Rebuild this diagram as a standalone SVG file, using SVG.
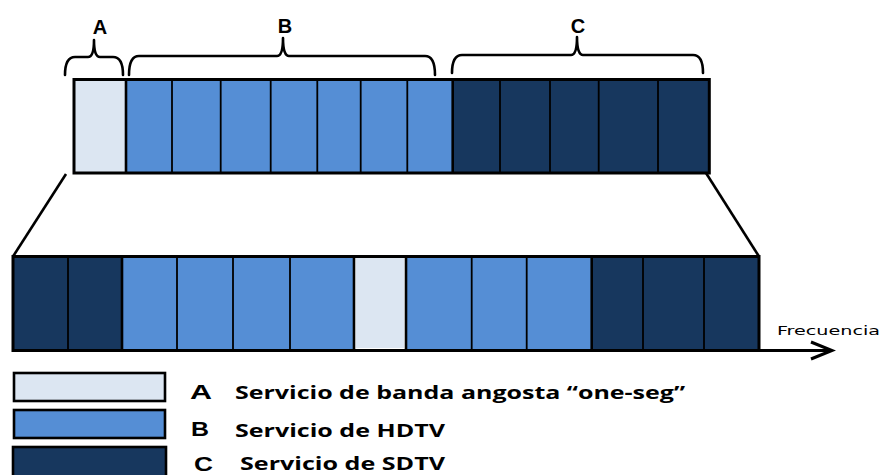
<svg xmlns="http://www.w3.org/2000/svg" width="883" height="475" viewBox="0 0 883 475">
<style>
.a{fill:#DCE6F2}
.b{fill:#558ED5}
.c{fill:#17375E}
.div{stroke:#000;stroke-width:1.8;fill:none}
.frame{fill:none;stroke:#000;stroke-width:3}
.brace{fill:none;stroke:#000;stroke-width:2.6;stroke-linejoin:round;stroke-linecap:round}
.lab{font-family:"Liberation Sans",Arial,sans-serif;font-weight:bold;font-size:20px;fill:#000}
.leg{font-family:"Open Sans","Liberation Sans",sans-serif;font-weight:bold;font-size:17px;fill:#000}
.freq{font-family:"DejaVu Sans",Verdana,sans-serif;font-size:13px;fill:#000}
.line{stroke:#000;stroke-width:2.6;fill:none}
</style>
<rect width="883" height="475" fill="#fff"/>

<g id="top-band">
  <rect class="a" x="74" y="79.5" width="52" height="93.5"/>
  <rect class="b" x="126" y="79.5" width="326.7" height="93.5"/>
  <rect class="c" x="452.7" y="79.5" width="256.6" height="93.5"/>
  <path class="div" d="M172 79.5V173M220.7 79.5V173M270.7 79.5V173M317.3 79.5V173M360.7 79.5V173M407.3 79.5V173M500 79.5V173M550 79.5V173M598.7 79.5V173M658 79.5V173"/>
  <path d="M126 79.5V173M452.7 79.5V173" stroke="#000" stroke-width="2.6"/>
  <rect class="frame" x="74" y="79.5" width="635.3" height="93.5"/>
</g>

<g id="brace-A">
  <path class="brace" d="M65 75Q65 57 75 57L88 57Q94 57 94 40Q94 57 100 57L113 57Q123 57 123 75"/>
  <text class="lab" x="100" y="34" text-anchor="middle">A</text>
</g>
<g id="brace-B">
  <path class="brace" d="M129 75Q129 56 139 56L277 56Q283 56 283 38Q283 56 289 56L425 56Q435 56 435 75"/>
  <text class="lab" x="285" y="33" text-anchor="middle">B</text>
</g>
<g id="brace-C">
  <path class="brace" d="M452 73Q452 55 462 55L571 55Q577 55 577 37Q577 55 583 55L693 55Q703 55 703 73"/>
  <text class="lab" x="578" y="33" text-anchor="middle">C</text>
</g>

<g id="connectors">
  <path class="line" d="M66 174L13 256.5"/>
  <path class="line" d="M706 173L759 256.5"/>
  <path d="M13 350.5H832" stroke="#000" stroke-width="3.2" fill="none"/>
  <path d="M811 342L832 350.5L811 359" stroke="#000" stroke-width="3" fill="none" stroke-linejoin="miter"/>
</g>

<g id="bottom-band">
  <rect class="c" x="13" y="256.5" width="109" height="94"/>
  <rect class="b" x="122" y="256.5" width="232" height="94"/>
  <rect class="a" x="356" y="258" width="48" height="90"/>
  <rect class="b" x="406" y="256.5" width="185.7" height="94"/>
  <rect class="c" x="591.7" y="256.5" width="167.3" height="94"/>
  <path class="div" d="M68 256.5V350.5M177 256.5V350.5M233 256.5V350.5M290 256.5V350.5M471.7 256.5V350.5M526.7 256.5V350.5M643 256.5V350.5M704 256.5V350.5"/>
  <path d="M122 256.5V350.5M354 256.5V350.5M406 256.5V350.5M591.7 256.5V350.5" stroke="#000" stroke-width="2.6"/>
  <rect class="frame" x="13" y="256.5" width="746" height="94"/>
</g>

<g id="axis-label">
  <text class="freq" x="777" y="335" textLength="103" lengthAdjust="spacingAndGlyphs">Frecuencia</text>
</g>

<g id="legend-A">
  <rect class="a" x="14" y="373" width="151" height="28" stroke="#000" stroke-width="2.6"/>
  <text class="lab" x="190" y="398.5" textLength="22" lengthAdjust="spacingAndGlyphs">A</text>
  <text class="leg" x="235" y="399" textLength="450" lengthAdjust="spacingAndGlyphs">Servicio de banda angosta “one-seg”</text>
</g>
<g id="legend-B">
  <rect class="b" x="14" y="410" width="151" height="28" stroke="#000" stroke-width="2.6"/>
  <text class="lab" x="191" y="436" textLength="18" lengthAdjust="spacingAndGlyphs">B</text>
  <text class="leg" x="235" y="437" textLength="210" lengthAdjust="spacingAndGlyphs">Servicio de HDTV</text>
</g>
<g id="legend-C">
  <rect class="c" x="13" y="447" width="153" height="32" stroke="#000" stroke-width="2.6"/>
  <text class="lab" x="194" y="471" textLength="19" lengthAdjust="spacingAndGlyphs">C</text>
  <text class="leg" x="240" y="470" font-size="16" textLength="205" lengthAdjust="spacingAndGlyphs">Servicio de SDTV</text>
</g>
</svg>
